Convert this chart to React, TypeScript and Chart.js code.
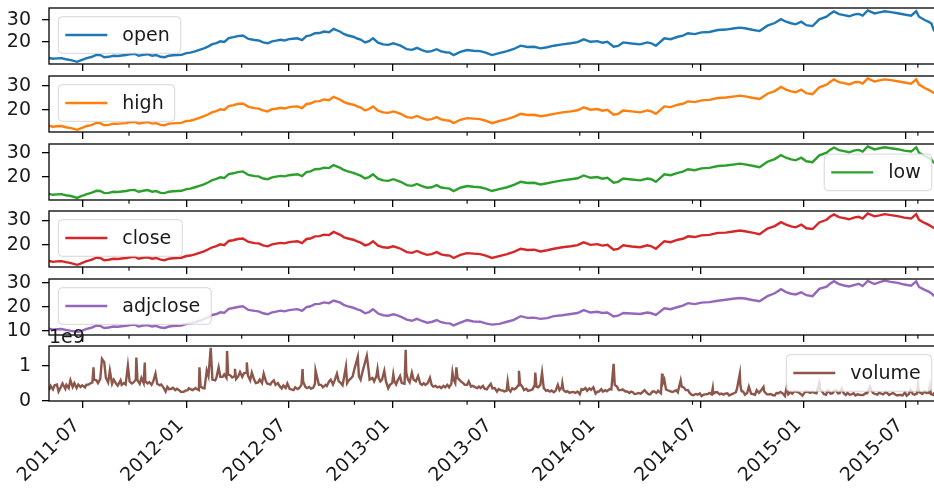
import React, { useEffect, useRef } from 'react';
import { Chart, registerables } from 'chart.js';

Chart.register(...registerables);

// ---- data -----------------------------------------------------------------
// price samples, one line per year

const priceDates = [
  '2011-05-02', '2011-05-09', '2011-05-16', '2011-05-24', '2011-06-01', '2011-06-10', '2011-06-21', '2011-06-26',
  '2011-07-01', '2011-07-08', '2011-07-16', '2011-07-25', '2011-08-01', '2011-08-08', '2011-08-16', '2011-08-24',
  '2011-09-01', '2011-09-08', '2011-09-16', '2011-09-23', '2011-10-01', '2011-10-08', '2011-10-16', '2011-10-24',
  '2011-11-01', '2011-11-08', '2011-11-16', '2011-11-23', '2011-12-01', '2011-12-08', '2011-12-16', '2011-12-23',
  '2012-01-01', '2012-01-08', '2012-01-16', '2012-01-24', '2012-02-01', '2012-02-08', '2012-02-16', '2012-02-23',
  '2012-03-01', '2012-03-08', '2012-03-16', '2012-03-24', '2012-04-01', '2012-04-10', '2012-04-20', '2012-05-01',
  '2012-05-08', '2012-05-16', '2012-05-24', '2012-06-01', '2012-06-08', '2012-06-16', '2012-06-23', '2012-07-01',
  '2012-07-08', '2012-07-16', '2012-07-24', '2012-08-01', '2012-08-08', '2012-08-16', '2012-08-24', '2012-09-01',
  '2012-09-10', '2012-09-18', '2012-09-30', '2012-10-06', '2012-10-12', '2012-10-23', '2012-10-30', '2012-11-05',
  '2012-11-13', '2012-11-20', '2012-11-27', '2012-12-06', '2012-12-15', '2012-12-24',
  '2013-01-02', '2013-01-08', '2013-01-15', '2013-01-26', '2013-02-04', '2013-02-13', '2013-02-22', '2013-03-03',
  '2013-03-11', '2013-03-20', '2013-03-28', '2013-04-05', '2013-04-12', '2013-04-19', '2013-05-01', '2013-05-13',
  '2013-05-24', '2013-06-05', '2013-06-15', '2013-06-26', '2013-07-09', '2013-07-23', '2013-08-04', '2013-08-16',
  '2013-08-28', '2013-09-09', '2013-09-20', '2013-10-02', '2013-10-14', '2013-10-29', '2013-11-13', '2013-11-25',
  '2013-12-06', '2013-12-18', '2013-12-30',
  '2014-01-08', '2014-01-17', '2014-01-28', '2014-02-05', '2014-02-14', '2014-03-01', '2014-03-16', '2014-03-29',
  '2014-04-05', '2014-04-13', '2014-04-28', '2014-05-09', '2014-05-22', '2014-05-31', '2014-06-09', '2014-06-21',
  '2014-07-03', '2014-07-17', '2014-08-01', '2014-08-15', '2014-08-31', '2014-09-09', '2014-09-18', '2014-10-01',
  '2014-10-14', '2014-10-28', '2014-11-10', '2014-11-21', '2014-11-30', '2014-12-09', '2014-12-17', '2014-12-27',
  '2015-01-05', '2015-01-16', '2015-01-28', '2015-02-10', '2015-02-16', '2015-02-23', '2015-03-04', '2015-03-13',
  '2015-03-22', '2015-04-01', '2015-04-08', '2015-04-15', '2015-04-24', '2015-05-06', '2015-05-15', '2015-05-24',
  '2015-06-04', '2015-06-16', '2015-06-28', '2015-07-10', '2015-07-19', '2015-07-24', '2015-08-03', '2015-08-11',
  '2015-08-15', '2015-08-20',
];

const openValues = [
  12.6, 12.2, 12.4, 12.5, 12.0, 11.6, 10.8, 11.3, 11.8, 12.5, 13.0, 14.0, 13.9, 12.9, 13.1, 13.6,
  13.5, 13.7, 13.9, 14.3, 14.5, 13.6, 14.0, 14.3, 13.6, 13.9, 13.1, 12.9, 13.6, 13.8, 13.9, 14.0,
  14.8, 15.0, 15.6, 16.3, 17.0, 17.8, 18.9, 19.4, 20.2, 19.9, 21.7, 22.1, 22.6, 22.9, 21.3, 20.8,
  20.6, 19.7, 19.3, 20.2, 20.5, 20.9, 20.6, 21.2, 21.4, 21.6, 20.8, 22.6, 22.9, 23.9, 24.0, 24.7,
  24.4, 25.9, 24.6, 23.6, 23.0, 22.3, 21.5, 21.0, 19.7, 20.3, 21.6, 19.6, 18.8, 18.6,
  19.3, 18.8, 18.2, 16.6, 16.3, 17.2, 16.2, 15.4, 15.7, 16.6, 15.6, 15.2, 15.0, 13.9, 15.4, 16.2,
  15.9, 15.7, 15.0, 13.9, 14.8, 15.7, 16.7, 18.2, 17.6, 17.7, 17.0, 17.5, 18.2, 18.8, 19.3, 19.8,
  21.1, 20.0, 20.3,
  19.6, 20.0, 17.7, 18.1, 19.7, 19.2, 18.8, 19.7, 19.3, 18.2, 21.6, 21.2, 22.3, 22.8, 23.9, 23.5,
  24.3, 24.5, 25.4, 25.6, 26.2, 26.5, 26.2, 25.5, 24.9, 27.4, 28.6, 30.4, 29.2, 28.5, 28.0, 29.2,
  27.6, 27.2, 30.3, 31.5, 32.8, 33.9, 32.7, 32.2, 31.7, 32.6, 32.8, 32.0, 34.4, 33.0, 33.5, 34.0,
  33.6, 33.1, 32.5, 32.0, 34.0, 31.5, 30.0, 29.0, 28.4, 24.8,
];

const highValues = [
  13.4, 13.0, 13.2, 13.3, 12.8, 12.4, 11.7, 12.2, 12.6, 13.3, 13.7, 14.6, 14.5, 13.6, 13.8, 14.3,
  14.2, 14.4, 14.5, 14.9, 15.1, 14.3, 14.6, 14.9, 14.3, 14.5, 13.8, 13.6, 14.3, 14.4, 14.5, 14.6,
  15.4, 15.5, 16.1, 16.7, 17.4, 18.1, 19.1, 19.5, 20.3, 20.0, 21.6, 22.0, 22.5, 22.7, 21.3, 20.8,
  20.6, 19.8, 19.4, 20.3, 20.5, 20.9, 20.6, 21.2, 21.4, 21.5, 20.8, 22.5, 22.7, 23.6, 23.7, 24.4,
  24.1, 25.5, 24.3, 23.4, 22.8, 22.2, 21.5, 21.0, 19.8, 20.4, 21.5, 19.7, 19.0, 18.8,
  19.4, 19.0, 18.4, 17.0, 16.7, 17.5, 16.6, 15.9, 16.2, 17.0, 16.1, 15.7, 15.5, 14.5, 15.9, 16.6,
  16.4, 16.2, 15.5, 14.5, 15.4, 16.2, 17.1, 18.4, 17.9, 18.0, 17.4, 17.8, 18.4, 19.0, 19.4, 19.9,
  21.1, 20.1, 20.4,
  19.7, 20.1, 18.0, 18.4, 19.8, 19.4, 19.0, 19.8, 19.4, 18.4, 21.5, 21.2, 22.2, 22.6, 23.6, 23.3,
  24.0, 24.2, 25.0, 25.2, 25.7, 26.0, 25.7, 25.1, 24.6, 26.8, 27.9, 29.6, 28.5, 27.8, 27.4, 28.5,
  27.0, 26.6, 29.5, 30.6, 31.7, 32.8, 31.6, 31.2, 30.7, 31.6, 31.7, 31.0, 33.2, 31.9, 32.4, 32.8,
  32.5, 32.0, 31.5, 31.0, 32.8, 30.6, 29.2, 28.3, 27.7, 27.0,
];

const lowValues = [
  12.7, 12.3, 12.5, 12.6, 12.1, 11.8, 11.0, 11.5, 12.0, 12.6, 13.1, 14.0, 13.9, 13.0, 13.1, 13.6,
  13.5, 13.7, 13.9, 14.3, 14.4, 13.6, 14.0, 14.3, 13.6, 13.9, 13.1, 13.0, 13.6, 13.8, 13.9, 14.0,
  14.7, 14.9, 15.5, 16.1, 16.7, 17.5, 18.5, 19.0, 19.7, 19.4, 21.1, 21.4, 21.9, 22.2, 20.7, 20.2,
  20.1, 19.2, 18.9, 19.7, 20.0, 20.3, 20.1, 20.6, 20.8, 21.0, 20.2, 21.9, 22.2, 23.1, 23.2, 23.8,
  23.6, 24.9, 23.7, 22.8, 22.3, 21.6, 20.9, 20.4, 19.2, 19.8, 21.0, 19.1, 18.4, 18.2,
  18.9, 18.4, 17.8, 16.4, 16.1, 16.9, 16.0, 15.3, 15.5, 16.4, 15.4, 15.1, 14.9, 13.9, 15.3, 16.0,
  15.7, 15.5, 14.9, 13.9, 14.7, 15.5, 16.5, 17.8, 17.3, 17.4, 16.7, 17.2, 17.8, 18.4, 18.9, 19.3,
  20.5, 19.5, 19.8,
  19.1, 19.5, 17.4, 17.8, 19.2, 18.8, 18.4, 19.2, 18.9, 17.8, 21.0, 20.6, 21.6, 22.1, 23.1, 22.7,
  23.5, 23.7, 24.5, 24.7, 25.2, 25.5, 25.2, 24.6, 24.0, 26.3, 27.4, 29.1, 28.0, 27.3, 26.9, 28.0,
  26.5, 26.1, 29.0, 30.1, 31.3, 32.3, 31.2, 30.8, 30.3, 31.1, 31.3, 30.6, 32.8, 31.5, 32.0, 32.4,
  32.0, 31.6, 31.0, 30.6, 32.4, 30.1, 28.7, 27.8, 27.2, 25.6,
];

const closeValues = [
  13.3, 12.9, 13.1, 13.2, 12.8, 12.4, 11.7, 12.1, 12.6, 13.2, 13.7, 14.6, 14.5, 13.6, 13.8, 14.2,
  14.1, 14.3, 14.5, 14.8, 15.0, 14.2, 14.6, 14.8, 14.2, 14.5, 13.8, 13.6, 14.2, 14.4, 14.5, 14.6,
  15.3, 15.5, 16.0, 16.6, 17.2, 18.0, 18.9, 19.4, 20.1, 19.8, 21.5, 21.8, 22.3, 22.5, 21.1, 20.6,
  20.5, 19.7, 19.3, 20.1, 20.4, 20.7, 20.5, 21.0, 21.2, 21.4, 20.6, 22.3, 22.5, 23.4, 23.5, 24.1,
  23.9, 25.2, 24.0, 23.1, 22.6, 22.0, 21.3, 20.8, 19.7, 20.2, 21.4, 19.6, 18.9, 18.7,
  19.3, 18.9, 18.3, 16.9, 16.6, 17.4, 16.5, 15.8, 16.1, 16.9, 16.0, 15.6, 15.5, 14.5, 15.8, 16.5,
  16.3, 16.1, 15.5, 14.5, 15.3, 16.1, 17.0, 18.3, 17.8, 17.9, 17.2, 17.7, 18.3, 18.9, 19.3, 19.8,
  20.9, 19.9, 20.2,
  19.6, 19.9, 17.9, 18.2, 19.7, 19.2, 18.9, 19.7, 19.3, 18.3, 21.4, 21.0, 22.0, 22.4, 23.4, 23.1,
  23.8, 24.0, 24.8, 24.9, 25.5, 25.8, 25.5, 24.9, 24.3, 26.6, 27.6, 29.2, 28.2, 27.5, 27.1, 28.2,
  26.7, 26.4, 29.1, 30.2, 31.4, 32.4, 31.3, 30.9, 30.4, 31.2, 31.4, 30.7, 32.8, 31.6, 32.0, 32.5,
  32.1, 31.7, 31.1, 30.7, 32.5, 30.2, 28.9, 28.0, 27.4, 26.7,
];

const adjcloseValues = [
  10.9, 10.5, 10.7, 10.8, 10.4, 10.0, 9.6, 9.7, 10.2, 10.8, 11.3, 12.2, 12.1, 11.2, 11.4, 11.8,
  11.7, 11.9, 12.1, 12.4, 12.6, 11.8, 12.2, 12.4, 11.8, 12.1, 11.4, 11.2, 11.8, 12.0, 12.1, 12.2,
  12.9, 13.1, 13.6, 14.2, 14.9, 15.6, 16.6, 17.0, 17.7, 17.5, 19.1, 19.5, 19.9, 20.2, 18.7, 18.3,
  18.1, 17.3, 16.9, 17.7, 18.0, 18.4, 18.1, 18.6, 18.8, 19.0, 18.3, 19.9, 20.2, 21.1, 21.2, 21.8,
  21.5, 22.6, 21.7, 20.8, 20.3, 19.6, 18.9, 18.5, 17.3, 17.8, 19.0, 17.2, 16.5, 16.3,
  16.9, 16.5, 15.9, 14.7, 14.2, 15.0, 14.1, 13.4, 13.7, 14.5, 13.6, 13.2, 13.1, 12.3, 13.4, 14.5,
  13.9, 13.8, 13.1, 12.6, 12.9, 13.8, 14.6, 16.1, 15.4, 15.5, 15.0, 15.3, 16.1, 16.5, 17.0, 17.4,
  18.6, 17.6, 17.9,
  17.4, 17.6, 16.0, 16.3, 17.4, 17.2, 17.0, 17.6, 17.3, 16.6, 19.4, 19.0, 19.9, 20.5, 21.5, 21.1,
  21.7, 21.9, 22.5, 22.9, 23.4, 23.6, 23.4, 22.8, 22.3, 24.4, 25.6, 27.3, 26.1, 25.4, 25.1, 26.0,
  24.8, 24.4, 27.4, 28.3, 29.5, 30.6, 29.4, 28.8, 28.4, 29.1, 29.5, 28.6, 30.7, 29.4, 30.2, 30.8,
  30.3, 29.9, 29.2, 28.7, 30.5, 28.2, 27.0, 26.2, 25.5, 24.4,
];

// traded volume, in units of 1e8 shares; one line per month
const volumeDates = [
  '2011-05-02', '2011-05-05', '2011-05-09', '2011-05-12', '2011-05-16', '2011-05-19', '2011-05-23', '2011-05-26', '2011-05-31',
  '2011-06-02', '2011-06-06', '2011-06-09', '2011-06-13', '2011-06-16', '2011-06-20', '2011-06-23', '2011-06-27', '2011-06-30',
  '2011-07-05', '2011-07-07', '2011-07-11', '2011-07-14', '2011-07-18', '2011-07-20', '2011-07-21', '2011-07-25', '2011-07-28',
  '2011-08-01', '2011-08-04', '2011-08-08', '2011-08-11', '2011-08-15', '2011-08-18', '2011-08-22', '2011-08-25', '2011-08-29',
  '2011-09-01', '2011-09-06', '2011-09-08', '2011-09-12', '2011-09-15', '2011-09-19', '2011-09-22', '2011-09-26', '2011-09-29',
  '2011-10-03', '2011-10-04', '2011-10-06', '2011-10-10', '2011-10-13', '2011-10-17', '2011-10-19', '2011-10-20', '2011-10-24', '2011-10-27', '2011-10-31',
  '2011-11-03', '2011-11-07', '2011-11-10', '2011-11-14', '2011-11-17', '2011-11-21', '2011-11-25', '2011-11-28',
  '2011-12-01', '2011-12-05', '2011-12-08', '2011-12-12', '2011-12-15', '2011-12-19', '2011-12-22', '2011-12-27', '2011-12-29',
  '2012-01-03', '2012-01-05', '2012-01-09', '2012-01-12', '2012-01-17', '2012-01-19', '2012-01-23', '2012-01-24', '2012-01-26', '2012-01-30',
  '2012-02-02', '2012-02-06', '2012-02-09', '2012-02-13', '2012-02-16', '2012-02-21', '2012-02-23', '2012-02-27',
  '2012-03-01', '2012-03-05', '2012-03-08', '2012-03-12', '2012-03-13', '2012-03-15', '2012-03-19', '2012-03-22', '2012-03-26', '2012-03-27', '2012-03-29',
  '2012-04-02', '2012-04-05', '2012-04-09', '2012-04-12', '2012-04-16', '2012-04-17', '2012-04-19', '2012-04-23', '2012-04-26', '2012-04-30',
  '2012-05-03', '2012-05-07', '2012-05-10', '2012-05-14', '2012-05-17', '2012-05-21', '2012-05-23', '2012-05-29', '2012-05-31',
  '2012-06-04', '2012-06-07', '2012-06-11', '2012-06-14', '2012-06-18', '2012-06-21', '2012-06-25', '2012-06-28',
  '2012-07-02', '2012-07-05', '2012-07-09', '2012-07-12', '2012-07-16', '2012-07-19', '2012-07-23', '2012-07-25', '2012-07-26', '2012-07-30',
  '2012-08-02', '2012-08-06', '2012-08-09', '2012-08-13', '2012-08-16', '2012-08-17', '2012-08-20', '2012-08-23', '2012-08-27', '2012-08-30',
  '2012-09-04', '2012-09-06', '2012-09-10', '2012-09-13', '2012-09-17', '2012-09-20', '2012-09-24', '2012-09-27',
  '2012-10-01', '2012-10-04', '2012-10-10', '2012-10-12', '2012-10-15', '2012-10-18', '2012-10-22', '2012-10-25', '2012-10-31',
  '2012-11-02', '2012-11-05', '2012-11-08', '2012-11-16', '2012-11-19', '2012-11-21', '2012-11-26', '2012-11-29',
  '2012-12-03', '2012-12-05', '2012-12-07', '2012-12-10', '2012-12-13', '2012-12-17', '2012-12-20', '2012-12-24', '2012-12-27', '2012-12-31',
  '2013-01-02', '2013-01-04', '2013-01-07', '2013-01-10', '2013-01-14', '2013-01-17', '2013-01-22', '2013-01-24', '2013-01-25', '2013-01-28', '2013-01-31',
  '2013-02-04', '2013-02-07', '2013-02-11', '2013-02-15', '2013-02-19', '2013-02-22', '2013-02-25', '2013-02-28',
  '2013-03-04', '2013-03-08', '2013-03-11', '2013-03-14', '2013-03-18', '2013-03-21', '2013-03-25', '2013-03-28',
  '2013-04-01', '2013-04-04', '2013-04-08', '2013-04-11', '2013-04-15', '2013-04-17', '2013-04-19', '2013-04-22', '2013-04-24', '2013-04-26', '2013-04-29',
  '2013-05-02', '2013-05-06', '2013-05-09', '2013-05-13', '2013-05-16', '2013-05-20', '2013-05-23', '2013-05-28', '2013-05-31',
  '2013-06-03', '2013-06-06', '2013-06-10', '2013-06-13', '2013-06-17', '2013-06-20', '2013-06-24', '2013-06-27',
  '2013-07-01', '2013-07-05', '2013-07-08', '2013-07-11', '2013-07-15', '2013-07-18', '2013-07-22', '2013-07-24', '2013-07-26', '2013-07-29',
  '2013-08-01', '2013-08-05', '2013-08-08', '2013-08-12', '2013-08-13', '2013-08-15', '2013-08-19', '2013-08-22', '2013-08-26', '2013-08-29',
  '2013-09-03', '2013-09-06', '2013-09-10', '2013-09-11', '2013-09-13', '2013-09-16', '2013-09-20', '2013-09-23', '2013-09-26', '2013-09-30',
  '2013-10-03', '2013-10-07', '2013-10-10', '2013-10-14', '2013-10-17', '2013-10-21', '2013-10-24', '2013-10-28', '2013-10-29', '2013-10-31',
  '2013-11-04', '2013-11-07', '2013-11-11', '2013-11-14', '2013-11-18', '2013-11-21', '2013-11-25', '2013-11-29',
  '2013-12-02', '2013-12-05', '2013-12-09', '2013-12-12', '2013-12-16', '2013-12-19', '2013-12-23', '2013-12-27', '2013-12-30',
  '2014-01-02', '2014-01-06', '2014-01-09', '2014-01-13', '2014-01-16', '2014-01-21', '2014-01-24', '2014-01-28', '2014-01-30',
  '2014-02-03', '2014-02-06', '2014-02-10', '2014-02-13', '2014-02-18', '2014-02-21', '2014-02-25', '2014-02-28',
  '2014-03-03', '2014-03-06', '2014-03-10', '2014-03-13', '2014-03-17', '2014-03-20', '2014-03-24', '2014-03-27', '2014-03-31',
  '2014-04-03', '2014-04-07', '2014-04-10', '2014-04-14', '2014-04-17', '2014-04-22', '2014-04-24', '2014-04-25', '2014-04-28',
  '2014-05-01', '2014-05-05', '2014-05-08', '2014-05-12', '2014-05-14', '2014-05-19', '2014-05-22', '2014-05-27', '2014-05-29',
  '2014-06-02', '2014-06-05', '2014-06-09', '2014-06-12', '2014-06-16', '2014-06-19', '2014-06-23', '2014-06-26', '2014-06-30',
  '2014-07-03', '2014-07-07', '2014-07-10', '2014-07-14', '2014-07-17', '2014-07-21', '2014-07-23', '2014-07-24', '2014-07-28', '2014-07-31',
  '2014-08-04', '2014-08-07', '2014-08-11', '2014-08-14', '2014-08-18', '2014-08-21', '2014-08-25', '2014-08-28',
  '2014-09-02', '2014-09-04', '2014-09-09', '2014-09-10', '2014-09-12', '2014-09-15', '2014-09-18', '2014-09-22', '2014-09-25', '2014-09-29',
  '2014-10-02', '2014-10-06', '2014-10-09', '2014-10-13', '2014-10-16', '2014-10-21', '2014-10-22', '2014-10-27', '2014-10-30',
  '2014-11-03', '2014-11-06', '2014-11-10', '2014-11-13', '2014-11-17', '2014-11-20', '2014-11-24', '2014-11-28',
  '2014-12-01', '2014-12-04', '2014-12-08', '2014-12-11', '2014-12-15', '2014-12-18', '2014-12-22', '2014-12-26', '2014-12-29',
  '2015-01-02', '2015-01-05', '2015-01-08', '2015-01-12', '2015-01-15', '2015-01-20', '2015-01-23', '2015-01-28', '2015-01-29',
  '2015-02-02', '2015-02-05', '2015-02-09', '2015-02-12', '2015-02-17', '2015-02-20', '2015-02-24', '2015-02-27',
  '2015-03-02', '2015-03-05', '2015-03-09', '2015-03-12', '2015-03-16', '2015-03-19', '2015-03-23', '2015-03-26', '2015-03-30',
  '2015-04-02', '2015-04-06', '2015-04-09', '2015-04-13', '2015-04-16', '2015-04-20', '2015-04-23', '2015-04-28', '2015-04-30',
  '2015-05-04', '2015-05-07', '2015-05-11', '2015-05-14', '2015-05-18', '2015-05-21', '2015-05-26', '2015-05-29',
  '2015-06-01', '2015-06-04', '2015-06-08', '2015-06-11', '2015-06-15', '2015-06-18', '2015-06-22', '2015-06-25', '2015-06-29',
  '2015-07-02', '2015-07-06', '2015-07-09', '2015-07-13', '2015-07-16', '2015-07-20', '2015-07-22', '2015-07-24', '2015-07-27', '2015-07-30',
  '2015-08-03', '2015-08-06', '2015-08-10', '2015-08-12', '2015-08-14', '2015-08-18', '2015-08-20',
];

const volume1e8 = [
  3.0, 4.2, 3.2, 4.4, 4.6, 2.6, 3.8, 4.9, 3.4,
  4.5, 3.6, 5.8, 3.9, 5.0, 3.6, 4.6, 3.9, 4.4,
  3.8, 4.5, 4.6, 4.9, 5.2, 9.5, 6.0, 5.8, 5.0,
  6.2, 11.9, 11.0, 6.5, 5.2, 8.6, 4.8, 6.0, 4.9,
  4.3, 5.8, 4.5, 5.0, 4.6, 10.0, 5.5, 4.9, 5.2,
  6.0, 12.3, 5.8, 4.8, 6.5, 5.0, 10.9, 5.5, 4.9, 5.3, 4.5,
  5.5, 7.7, 4.8, 4.4, 4.6, 3.8, 2.6, 3.9,
  3.3, 3.4, 3.7, 3.0, 3.4, 3.0, 2.5, 2.5, 2.8,
  3.0, 3.5, 3.2, 3.0, 3.6, 3.3, 3.0, 9.5, 4.0, 3.6,
  3.5, 8.6, 7.0, 15.1, 6.0, 5.8, 6.5, 9.5,
  6.8, 6.8, 7.5, 6.5, 14.2, 7.4, 7.2, 6.6, 7.0, 9.1, 6.2,
  7.0, 8.2, 6.8, 7.8, 8.0, 10.9, 7.2, 5.8, 8.0, 6.0,
  5.0, 5.2, 6.0, 5.0, 7.7, 5.5, 4.9, 4.6, 5.2,
  5.8, 4.5, 5.0, 4.2, 3.5, 4.3, 3.6, 4.9,
  3.4, 3.2, 3.0, 3.8, 3.3, 3.6, 4.5, 9.0, 5.5, 3.9,
  3.6, 3.9, 3.4, 3.7, 4.8, 8.6, 6.5, 4.5, 4.5, 3.8,
  4.5, 4.2, 5.5, 6.0, 4.6, 5.8, 7.7, 5.6,
  5.0, 4.4, 9.7, 5.0, 5.8, 6.2, 7.0, 9.0, 12.5,
  7.0, 6.0, 8.0, 12.8, 9.0, 6.0, 6.5, 5.5,
  7.0, 9.0, 6.5, 5.5, 6.0, 8.5, 5.5, 3.5, 4.5, 5.0,
  7.5, 5.5, 4.6, 5.8, 7.0, 5.0, 4.8, 14.5, 8.0, 6.0, 5.2,
  8.0, 6.0, 5.5, 7.0, 4.8, 4.5, 5.0, 4.5,
  5.0, 6.5, 4.5, 4.0, 4.2, 3.8, 4.0, 3.6,
  4.2, 3.8, 4.5, 3.8, 4.8, 8.0, 6.0, 5.0, 9.5, 6.5, 6.0,
  5.5, 5.0, 4.5, 4.5, 5.5, 4.0, 4.2, 3.8, 3.6,
  4.0, 3.6, 4.2, 3.4, 3.2, 4.0, 4.8, 3.5,
  3.6, 2.6, 3.3, 3.0, 2.9, 2.6, 2.8, 5.5, 3.2, 2.6,
  3.5, 3.2, 3.6, 4.4, 8.5, 4.8, 4.0, 3.0, 3.4, 2.8,
  3.0, 3.2, 4.5, 8.0, 4.0, 3.8, 4.5, 8.0, 3.6, 2.8,
  3.0, 2.6, 2.9, 2.4, 2.8, 4.5, 3.0, 3.8, 5.0, 3.0,
  2.5, 2.7, 2.2, 2.4, 2.5, 2.2, 2.6, 1.8,
  3.3, 3.1, 3.6, 2.8, 3.5, 3.1, 3.8, 2.0, 2.5,
  2.6, 3.3, 2.6, 3.0, 2.7, 3.3, 3.2, 10.5, 4.5,
  4.0, 3.0, 3.0, 3.2, 2.6, 2.6, 2.2, 2.6,
  2.4, 1.9, 2.0, 2.2, 2.0, 2.4, 3.0, 2.4, 1.8,
  1.8, 2.6, 2.6, 2.2, 2.8, 2.1, 7.7, 4.8, 6.0,
  3.2, 2.9, 2.7, 2.5, 2.6, 3.0, 2.4, 5.8, 4.0,
  3.7, 3.0, 3.0, 2.2, 1.6, 1.6, 1.9, 1.7, 2.1,
  1.3, 1.7, 1.8, 1.9, 2.2, 1.8, 3.6, 2.0, 2.4, 2.4,
  1.8, 2.0, 1.7, 2.0, 2.1, 1.5, 1.8, 2.0,
  2.4, 3.4, 7.7, 4.4, 2.7, 2.6, 1.7, 2.2, 4.0, 2.0,
  1.9, 1.7, 3.0, 2.2, 2.8, 3.9, 2.7, 1.8, 1.8,
  1.9, 1.6, 1.5, 2.2, 2.1, 2.5, 2.1, 1.3,
  3.8, 1.8, 2.5, 2.0, 2.7, 2.6, 2.4, 1.9, 1.4,
  2.3, 2.6, 2.5, 2.2, 2.5, 2.2, 2.1, 5.0, 3.4,
  2.6, 1.9, 1.7, 2.9, 2.0, 2.1, 2.8, 3.0,
  2.1, 2.1, 3.5, 2.2, 1.6, 2.2, 1.7, 1.8, 2.1,
  1.5, 1.8, 1.7, 1.6, 1.6, 2.1, 2.1, 4.0, 3.0,
  2.1, 1.9, 1.7, 2.2, 2.0, 1.8, 2.4, 2.1,
  1.6, 1.9, 2.2, 1.8, 1.5, 1.6, 1.6, 1.5, 2.4,
  1.4, 1.9, 3.1, 1.9, 1.7, 2.0, 4.6, 2.4, 2.2, 1.9,
  2.7, 2.2, 2.3, 4.1, 1.9, 1.7, 2.3,
];

// shared date axis
const xStart = '2011-05-02';
const xEnd = '2015-09-01';
const majorTickDates = [
  '2011-07-01', '2012-01-01', '2012-07-01', '2013-01-01', '2013-07-01',
  '2014-01-01', '2014-07-01', '2015-01-01', '2015-07-01',
];
const minorTickDates = [
  '2011-09-21', '2012-04-08', '2012-10-25', '2013-05-13', '2013-11-29', '2014-06-17', '2015-07-22',
];

// ---- layout & style ---------------------------------------------------------

const CANVAS_W = 960;
const CANVAS_H = 490;
const VIEW_W = 934;
const PLOT_LEFT = 49;
const PLOT_RIGHT = 941;
const X_AXIS_H = 10;
const FONT_FAMILY = "'DejaVu Sans', sans-serif";
const FONT_SIZE = 19;
const TEXT = '#1a1a1a';
const LINE_W = 2.4;

type Corner = 'upper left' | 'lower right' | 'upper right';

interface Panel {
  label: string;
  color: string;
  dates: string[];
  values: number[];
  yMin: number;
  yMax: number;
  yTicks: number[];
  yFormat: (v: number) => string;
  legend: Corner;
  top: number;
  bottom: number;
  offsetText?: string;
}

const plain = (v: number) => String(v);

const panels: Panel[] = [
  { label: 'open', color: '#1f77b4', dates: priceDates, values: openValues, yMin: 9.8, yMax: 35.5, yTicks: [20, 30], yFormat: plain, legend: 'upper left', top: 8, bottom: 64 },
  { label: 'high', color: '#ff7f0e', dates: priceDates, values: highValues, yMin: 10.8, yMax: 34.2, yTicks: [20, 30], yFormat: plain, legend: 'upper left', top: 76, bottom: 132 },
  { label: 'low', color: '#2ca02c', dates: priceDates, values: lowValues, yMin: 10.1, yMax: 33.8, yTicks: [20, 30], yFormat: plain, legend: 'lower right', top: 144, bottom: 200 },
  { label: 'close', color: '#d62728', dates: priceDates, values: closeValues, yMin: 10.8, yMax: 33.8, yTicks: [20, 30], yFormat: plain, legend: 'upper left', top: 211, bottom: 267 },
  { label: 'adjclose', color: '#9467bd', dates: priceDates, values: adjcloseValues, yMin: 8.3, yMax: 31.5, yTicks: [10, 20, 30], yFormat: plain, legend: 'upper left', top: 279, bottom: 335 },
  {
    label: 'volume', color: '#8c564b', dates: volumeDates, values: volume1e8.map((v) => v * 1e8),
    yMin: -0.01e9, yMax: 1.56e9, yTicks: [0, 1e9], yFormat: (v) => String(Math.round(v / 1e9)),
    legend: 'upper right', top: 346, bottom: 401, offsetText: '1e9',
  },
];

const ts = (d: string) => Date.parse(d + 'T00:00:00Z');
const yearMonth = (v: number) => {
  const d = new Date(v);
  return `${d.getUTCFullYear()}-${String(d.getUTCMonth() + 1).padStart(2, '0')}`;
};

// Axes frame, minor ticks, rotated date labels, exponent label and an in-axes legend box
const decorPlugin = {
  id: 'decor',
  afterDatasetsDraw(chart: any, _args: any, opts: any) {
    const { ctx, chartArea: a } = chart;
    const xs = chart.scales.x;
    ctx.save();

    ctx.strokeStyle = '#000';
    ctx.lineWidth = 1.3;
    ctx.strokeRect(a.left, a.top, a.right - a.left, a.bottom - a.top);

    ctx.lineWidth = 1.1;
    ctx.beginPath();
    for (const d of minorTickDates) {
      const x = xs.getPixelForValue(ts(d));
      if (x < a.left || x > a.right) continue;
      ctx.moveTo(x, a.bottom);
      ctx.lineTo(x, a.bottom + 3.8);
    }
    ctx.stroke();

    ctx.font = `${FONT_SIZE}px ${FONT_FAMILY}`;
    ctx.fillStyle = TEXT;

    if (opts.dateLabels) {
      ctx.textAlign = 'right';
      ctx.textBaseline = 'top';
      for (const d of majorTickDates) {
        const x = xs.getPixelForValue(ts(d));
        ctx.save();
        ctx.translate(x - 12.5, a.bottom + 15);
        ctx.rotate(-Math.PI / 4);
        ctx.fillText(yearMonth(ts(d)), 0, 0);
        ctx.restore();
      }
    }

    if (opts.offsetText) {
      ctx.textAlign = 'left';
      ctx.textBaseline = 'alphabetic';
      ctx.fillText(opts.offsetText, a.left, a.top - 3);
    }

    // legend
    const label: string = opts.label;
    const tw = ctx.measureText(label).width;
    const bw = 64 + tw + 11;
    const bh = 36.6;
    const corner: Corner = opts.corner;
    const bx = corner.endsWith('left') ? a.left + 9.3 : a.right - 9.3 - bw;
    const by = corner.startsWith('upper') ? a.top + 8.7 : a.bottom - 9.3 - bh;
    const r = 4;
    ctx.beginPath();
    ctx.moveTo(bx + r, by);
    ctx.lineTo(bx + bw - r, by);
    ctx.arcTo(bx + bw, by, bx + bw, by + r, r);
    ctx.lineTo(bx + bw, by + bh - r);
    ctx.arcTo(bx + bw, by + bh, bx + bw - r, by + bh, r);
    ctx.lineTo(bx + r, by + bh);
    ctx.arcTo(bx, by + bh, bx, by + bh - r, r);
    ctx.lineTo(bx, by + r);
    ctx.arcTo(bx, by, bx + r, by, r);
    ctx.closePath();
    ctx.fillStyle = 'rgba(255,255,255,0.8)';
    ctx.fill();
    ctx.strokeStyle = 'rgba(204,204,204,0.8)';
    ctx.lineWidth = 1;
    ctx.stroke();

    const cy = by + bh / 2;
    ctx.strokeStyle = opts.color;
    ctx.lineWidth = LINE_W;
    ctx.beginPath();
    ctx.moveTo(bx + 7, cy);
    ctx.lineTo(bx + 49, cy);
    ctx.stroke();

    ctx.fillStyle = TEXT;
    ctx.textAlign = 'left';
    ctx.textBaseline = 'middle';
    ctx.fillText(label, bx + 64, cy + 1);
    ctx.restore();
  },
};

function buildConfig(p: Panel, isLast: boolean): any {
  const font = { family: FONT_FAMILY, size: FONT_SIZE };
  return {
    type: 'line',
    data: {
      datasets: [
        {
          label: p.label,
          data: p.dates.map((d, i) => ({ x: ts(d), y: p.values[i] })),
          borderColor: p.color,
          borderWidth: LINE_W,
          pointRadius: 0,
          tension: 0,
          fill: false,
        },
      ],
    },
    options: {
      animation: false,
      responsive: false,
      events: [],
      layout: {
        padding: {
          top: p.top,
          left: 0,
          right: CANVAS_W - PLOT_RIGHT,
          bottom: CANVAS_H - p.bottom - X_AXIS_H,
        },
      },
      plugins: {
        legend: { display: false },
        tooltip: { enabled: false },
        decor: { label: p.label, color: p.color, corner: p.legend, offsetText: p.offsetText, dateLabels: isLast },
      },
      scales: {
        x: {
          type: 'linear',
          min: ts(xStart),
          max: ts(xEnd),
          afterBuildTicks: (s: any) => {
            s.ticks = majorTickDates.map((d) => ({ value: ts(d) }));
          },
          afterFit: (s: any) => {
            s.height = X_AXIS_H;
            s.paddingLeft = 0;
            s.paddingRight = 0;
          },
          grid: { display: true, drawOnChartArea: false, drawTicks: true, tickLength: 7, color: '#000', lineWidth: 1.3 },
          border: { display: false },
          ticks: { autoSkip: false, maxRotation: 0, font, callback: () => '' },
        },
        y: {
          min: p.yMin,
          max: p.yMax,
          afterBuildTicks: (s: any) => {
            s.ticks = p.yTicks.map((v) => ({ value: v }));
          },
          afterFit: (s: any) => {
            s.width = PLOT_LEFT;
            s.paddingTop = 0;
            s.paddingBottom = 0;
          },
          grid: { display: true, drawOnChartArea: false, drawTicks: true, tickLength: 7, color: '#000', lineWidth: 1.3 },
          border: { display: false },
          ticks: { padding: 11, font, color: TEXT, callback: (v: number) => p.yFormat(v) },
        },
      },
    },
    plugins: [decorPlugin],
  };
}

export default function App() {
  const canvasRefs = useRef<(HTMLCanvasElement | null)[]>([]);

  useEffect(() => {
    const charts = panels.map(
      (p, i) => new Chart(canvasRefs.current[i] as HTMLCanvasElement, buildConfig(p, i === panels.length - 1)),
    );
    return () => charts.forEach((c) => c.destroy());
  }, []);

  return (
    <div
      style={{
        position: 'fixed',
        left: 0,
        top: 0,
        width: VIEW_W,
        height: CANVAS_H,
        overflow: 'hidden',
        background: '#fff',
      }}
    >
      {panels.map((p, i) => (
        <canvas
          key={p.label}
          ref={(el) => {
            canvasRefs.current[i] = el;
          }}
          width={CANVAS_W}
          height={CANVAS_H}
          style={{ position: 'absolute', left: 0, top: 0, width: CANVAS_W, height: CANVAS_H }}
        />
      ))}
    </div>
  );
}
